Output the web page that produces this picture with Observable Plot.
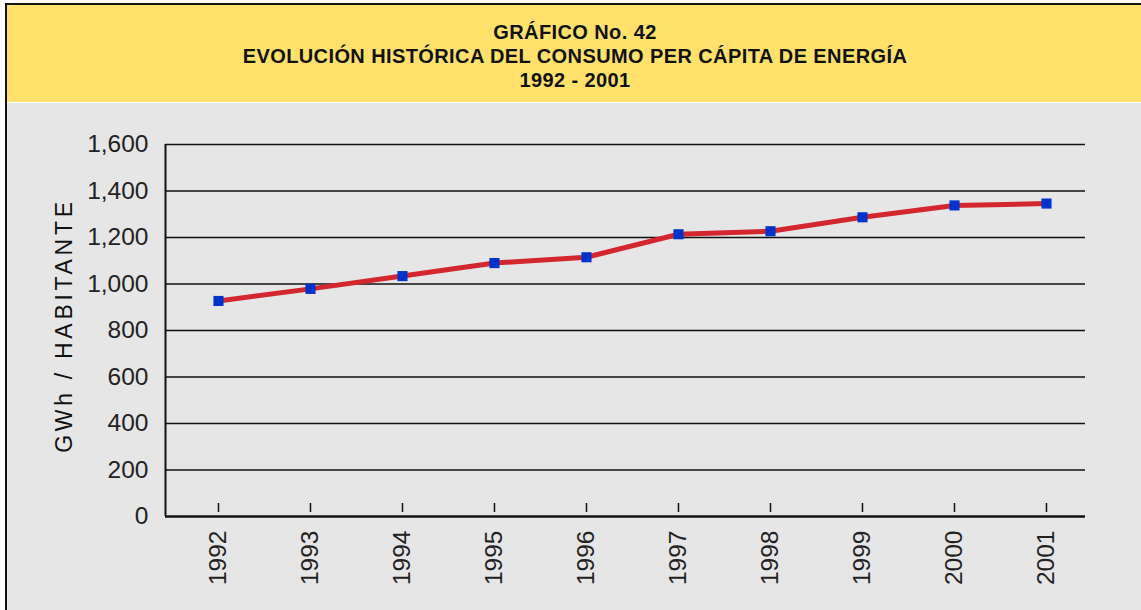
<!DOCTYPE html>
<html>
<head>
<meta charset="utf-8">
<script src="https://cdn.jsdelivr.net/npm/d3@7"></script>
<script src="https://cdn.jsdelivr.net/npm/@observablehq/plot@0.6"></script>
<style>
  html, body { margin: 0; padding: 0; background: #ffffff; }
  body { width: 1141px; height: 610px; overflow: hidden; position: relative; font-family: "Liberation Sans", Arial, Helvetica, sans-serif; }
  #frame { position: absolute; left: 5px; top: 3px; width: 1136px; height: 607px; border-top: 2px solid #111; border-left: 2px solid #111; background: #e6e6e6; }
  #header { position: absolute; left: 0; top: 0; width: 1136px; height: 98px; background: #ffe16b; border-bottom: 1px solid #ffffff; text-align: center; box-sizing: border-box; padding-top: 15px; }
  #header div { font-weight: bold; font-size: 20px; letter-spacing: 0.4px; line-height: 24px; color: #111; }
  #chart { position: absolute; left: 0; top: 99px; }
  #chart svg { display: block; }
  #chart g[aria-label="text"] text { letter-spacing: 3.7px; }
</style>
</head>
<body>
<div id="frame">
  <div id="header">
    <div>GRÁFICO No. 42</div>
    <div>EVOLUCIÓN HISTÓRICA DEL CONSUMO PER CÁPITA DE ENERGÍA</div>
    <div>1992 - 2001</div>
  </div>
  <div id="chart"></div>
</div>
<script>
const years = [1992, 1993, 1994, 1995, 1996, 1997, 1998, 1999, 2000, 2001];
const consumo = [927, 979, 1034, 1090, 1115, 1214, 1227, 1287, 1338, 1346];
const yTicks = [0, 200, 400, 600, 800, 1000, 1200, 1400, 1600];
const yLabel = "GWh / HABITANTE";

const data = years.map((y, i) => ({year: y, value: consumo[i]}));

const chart = Plot.plot({
  width: 1134,
  height: 506,
  marginLeft: 158,
  marginRight: 56,
  marginTop: 40,
  marginBottom: 94,
  style: {background: "transparent", fontFamily: "'Liberation Sans', Arial, Helvetica, sans-serif", color: "#222"},
  x: {type: "linear", domain: [1991.424, 2001.424]},
  y: {domain: [0, 1600]},
  marks: [
    Plot.ruleY(yTicks.filter(d => d > 0), {stroke: "#111", strokeWidth: 1.6}),
    Plot.ruleY([0], {stroke: "#111", strokeWidth: 2.6}),
    Plot.ruleX([1991.424], {y1: 0, y2: 1600, stroke: "#111", strokeWidth: 2}),
    Plot.axisY({ticks: yTicks, tickSize: 0, tickPadding: 17, tickFormat: d3.format(","), fontSize: 24.5, label: null, fill: "#222"}),
    Plot.axisX({ticks: years, tickSize: 9, dy: -13, tickFormat: () => "", label: null, stroke: "#111", strokeWidth: 1.5}),
    Plot.axisX({ticks: years, tickSize: 0, tickPadding: 14, tickRotate: -90, tickFormat: d => String(d), fontSize: 24.5, label: null, fill: "#222"}),
    Plot.text([yLabel], {frameAnchor: "left", dx: -101, dy: -5, rotate: -90, fontSize: 23, fill: "#111", textAnchor: "middle", lineAnchor: "middle"}),
    Plot.line(data, {x: "year", y: "value", stroke: "#d4262e", strokeWidth: 5}),
    Plot.dot(data, {x: "year", y: "value", symbol: "square", r: 5.7, fill: "#0033cc", stroke: "none"})
  ]
});
document.getElementById("chart").appendChild(chart);
</script>
</body>
</html>
